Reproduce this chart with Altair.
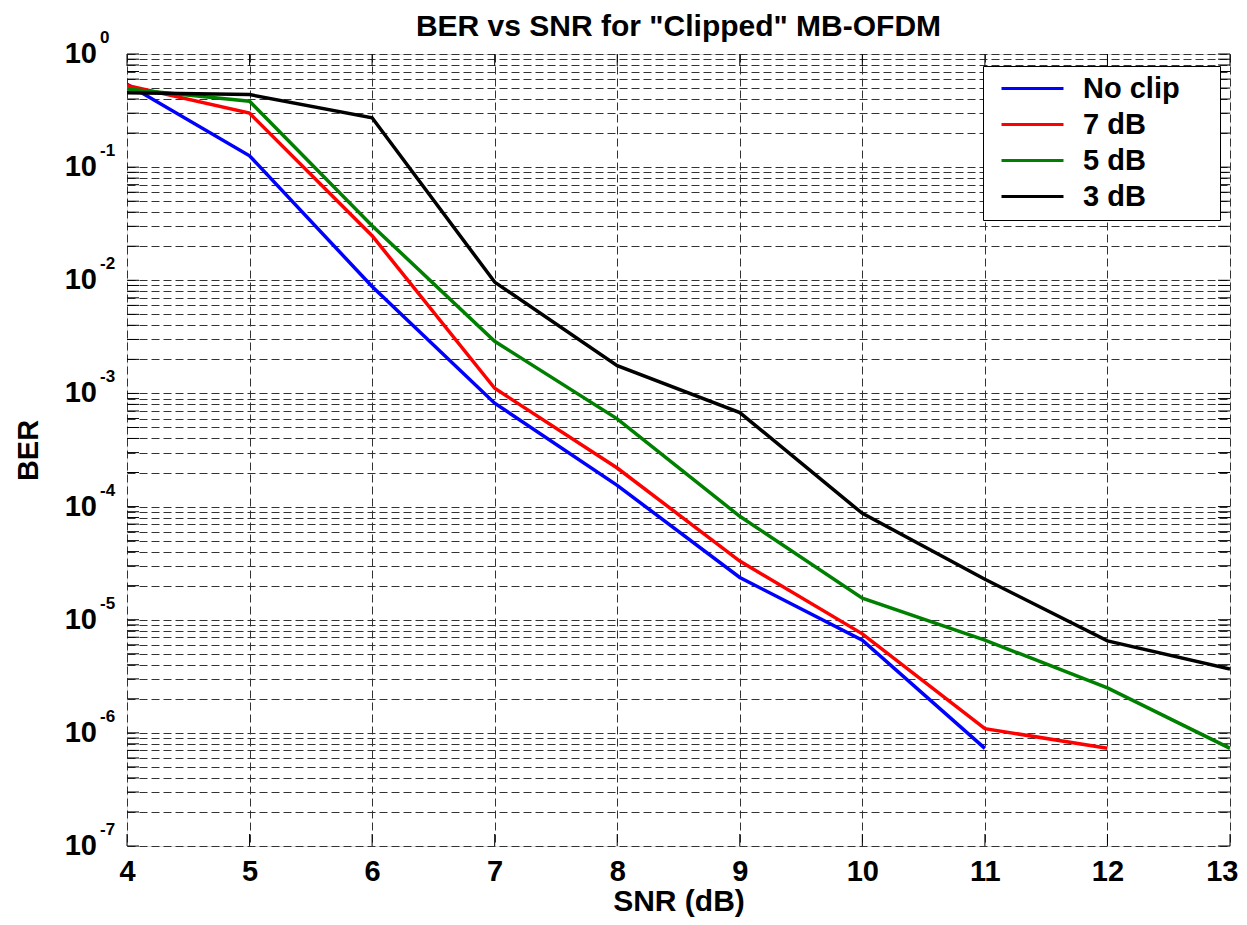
import altair as alt
import pandas as pd

chart_title = 'BER vs SNR for "Clipped" MB-OFDM'
snr = [4, 5, 6, 7, 8, 9, 10, 11, 12, 13]
series_names = ["No clip", "7 dB", "5 dB", "3 dB"]
series_colors = ["#0000ff", "#ff0000", "#008000", "#000000"]
ber_no_clip = [0.54, 0.126, 0.0088, 8.2e-4, 1.54e-4, 2.36e-5, 6.6e-6, 7.3e-7]
ber_7db = [0.526, 0.30, 0.0248, 1.11e-3, 2.19e-4, 3.3e-5, 7.5e-6, 1.09e-6, 7.3e-7]
ber_5db = [0.49, 0.383, 0.0304, 2.89e-3, 5.96e-4, 8.2e-5, 1.55e-5, 6.6e-6, 2.5e-6, 7.3e-7]
ber_3db = [0.454, 0.438, 0.273, 9.64e-3, 1.76e-3, 6.78e-4, 8.7e-5, 2.28e-5, 6.5e-6, 3.67e-6]

x_ticks = [4, 5, 6, 7, 8, 9, 10, 11, 12, 13]
exponents = [0, -1, -2, -3, -4, -5, -6, -7]
minor_mult = [1, 2, 3, 4, 5, 6, 7, 8, 9]

rows = []
for name, vals in zip(series_names, [ber_no_clip, ber_7db, ber_5db, ber_3db]):
    for s, v in zip(snr, vals):
        rows.append({"snr": s, "ber": v, "series": name})
df = pd.DataFrame(rows)

y_grid_vals = sorted({m * 10.0 ** e for e in exponents[1:] for m in minor_mult} | {1.0})
ygrid_df = pd.DataFrame({"v": y_grid_vals})
xtick_df = pd.DataFrame({"v": x_ticks})
exp_df = pd.DataFrame({"y": [10.0 ** e for e in exponents],
                       "base": ["10"] * len(exponents),
                       "exp": [str(e) for e in exponents]})
title_df = pd.DataFrame({"t": [chart_title]})

FONT = "Liberation Sans"
PAD = "\u00a0" * 4 + "\u200b"
xscale = alt.Scale(domain=[4, 13], nice=False, zero=False)
yscale = alt.Scale(type="log", domain=[1e-7, 1], nice=False)

lines = alt.Chart(df).mark_line(strokeWidth=3.5, clip=True).encode(
    x=alt.X("snr:Q", scale=xscale,
            axis=alt.Axis(values=x_ticks, format="d", grid=True, gridDash=[8, 4],
                          gridColor="#333333", gridWidth=1, ticks=False, tickSize=0,
                          domain=False, labelFont=FONT, labelFontSize=29,
                          labelFontWeight="bold", labelColor="black", labelPadding=11,
                          labelFlush=False,
                          labelAlign={"condition": {"test": "datum.value >= 13", "value": "right"},
                                      "value": "center"},
                          labelOffset={"condition": {"test": "datum.value >= 13", "value": 8},
                                       "value": 0},
                          title="SNR (dB)", titleFont=FONT,
                          titleFontSize=30, titleFontWeight="bold", titleColor="black",
                          titleBaseline="alphabetic", titleY=64)),
    y=alt.Y("ber:Q", scale=yscale,
            axis=alt.Axis(values=y_grid_vals, grid=True, gridDash=[8, 4], gridColor="#333333",
                          gridWidth=1, ticks=False, tickSize=0, domain=False, labels=False,
                          title="BER", titleFont=FONT, titleFontSize=29,
                          titleFontWeight="bold", titleColor="black",
                          titleBaseline="alphabetic", titleX=-90, titleAngle=270)),
    color=alt.Color("series:N",
                    scale=alt.Scale(domain=series_names, range=series_colors),
                    legend=alt.Legend(title=None, orient="none", legendX=856, legendY=12,
                                      strokeColor="black", fillColor="white", padding=8,
                                      symbolType="M-3,0H3", symbolStrokeWidth=3,
                                      symbolSize=427, symbolOffset=27,
                                      labelFont=FONT, labelFontSize=29, labelFontWeight="bold",
                                      labelColor="black", labelOffset=36, rowPadding=6,
                                      labelExpr="datum.label + '" + PAD + "'")),
)

base_lbl = alt.Chart(exp_df).mark_text(
    align="right", baseline="alphabetic", dx=-30, dy=9, font=FONT,
    fontSize=29, fontWeight="bold", color="black", clip=False
).encode(x=alt.datum(4, scale=xscale), y=alt.Y("y:Q", scale=yscale), text="base:N")

exp_lbl = alt.Chart(exp_df).mark_text(
    align="left", baseline="alphabetic", dx=-27, dy=-11, font=FONT,
    fontSize=17, fontWeight="bold", color="black", clip=False
).encode(x=alt.datum(4, scale=xscale), y=alt.Y("y:Q", scale=yscale), text="exp:N")

title_txt = alt.Chart(title_df).mark_text(
    align="center", baseline="alphabetic", dy=-18, font=FONT, fontSize=30,
    fontWeight="bold", color="black", clip=False
).encode(x=alt.datum(8.5, scale=xscale), y=alt.datum(1, scale=yscale), text="t:N")

tick_r = alt.Chart(ygrid_df).mark_tick(orient="horizontal", size=12, thickness=1,
                                       xOffset=-6, color="black", opacity=1).encode(
    x=alt.datum(13, scale=xscale), y=alt.Y("v:Q", scale=yscale))
tick_l = alt.Chart(ygrid_df).mark_tick(orient="horizontal", size=12, thickness=1,
                                       xOffset=6, color="black", opacity=1).encode(
    x=alt.datum(4, scale=xscale), y=alt.Y("v:Q", scale=yscale))
tick_t = alt.Chart(xtick_df).mark_tick(orient="vertical", size=12, thickness=1,
                                       yOffset=6, color="black", opacity=1).encode(
    x=alt.X("v:Q", scale=xscale), y=alt.datum(1, scale=yscale))
tick_b = alt.Chart(xtick_df).mark_tick(orient="vertical", size=12, thickness=1,
                                       yOffset=-6, color="black", opacity=1).encode(
    x=alt.X("v:Q", scale=xscale), y=alt.datum(1e-7, scale=yscale))

chart = alt.layer(tick_r, tick_l, tick_t, tick_b, lines, base_lbl, exp_lbl, title_txt).properties(
    width=1103, height=792,
    autosize=alt.AutoSizeParams(type="none"),
    padding={"left": 119, "top": 46, "right": 9, "bottom": 71},
).configure_view(stroke="black", strokeWidth=2).configure(background="white")

chart.save("out.html", embed_options={"renderer": "svg", "actions": False})
